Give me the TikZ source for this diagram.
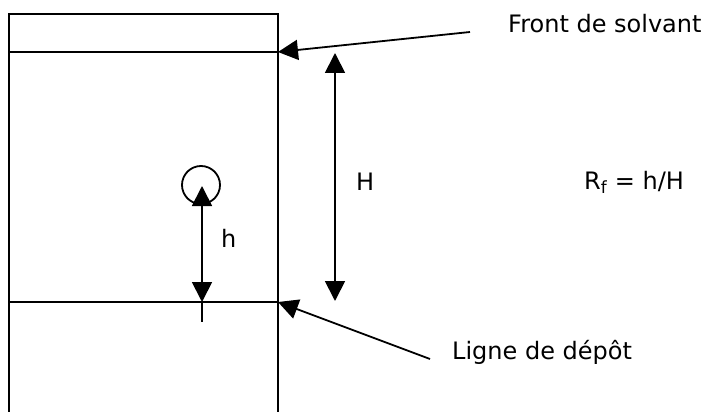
\documentclass[tikz,border=0pt]{standalone}
\usepackage{fontspec}
\setmainfont{DejaVu Sans}
\usetikzlibrary{arrows.meta}
\begin{document}
\begin{tikzpicture}[x=1pt,y=-1pt,
  plate/.style={line width=2pt},
  mark line/.style={line width=1.8pt},
  big tip/.style={line width=1.8pt,-{Triangle[length=20pt,width=20pt]}},
  both tips/.style={line width=1.8pt,{Triangle[length=20pt,width=20pt]}-{Triangle[length=20pt,width=20pt]}},
  lab/.style={font=\fontsize{24}{28}\selectfont,inner sep=0pt}]
\useasboundingbox[fill=white] (0,0) rectangle (712,412);
% plate
\coordinate (pbl) at (9,412);
\coordinate (ptl) at (9,14);
\coordinate (ptr) at (278,14);
\coordinate (pbr) at (278,412);
\draw[plate] (pbl) -- (ptl) -- (ptr) -- (pbr);
% front and deposit lines
\coordinate (fl) at (9,52);
\coordinate (fr) at (278,52);
\coordinate (dl) at (9,302);
\coordinate (dr) at (278,302);
\draw[mark line] (fl) -- (fr);
\draw[mark line] (dl) -- (dr);
% spot
\node[draw,circle,line width=1.8pt,minimum size=38pt,inner sep=0pt] (spot) at (201,185) {};
% h arrow
\coordinate (htop) at (202,186);
\coordinate (hbot) at (202,302);
\coordinate (htick) at (202,322);
\draw[both tips] (htop) -- (hbot);
\draw[line width=1.8pt] (hbot) -- (htick);
\node[lab,anchor=west] (h) at (221,238) {h};
% H arrow
\coordinate (Htop) at (335,53);
\coordinate (Hbot) at (335,301);
\draw[both tips] (Htop) -- (Hbot);
\node[lab,anchor=west] (H) at (356,182) {H};
% formula
\node[lab,anchor=west] (rf) at (584,182) {R\textsubscript{f} = h/H};
% labels with pointers
\node[lab,anchor=west] (front) at (508,24) {Front de solvant};
\coordinate (fs) at (470,32);
\draw[big tip] (fs) -- (fr);
\node[lab,anchor=west] (ligne) at (452,352) {Ligne de dépôt};
\coordinate (ls) at (430,359);
\draw[big tip] (ls) -- (dr);
\end{tikzpicture}
\end{document}
